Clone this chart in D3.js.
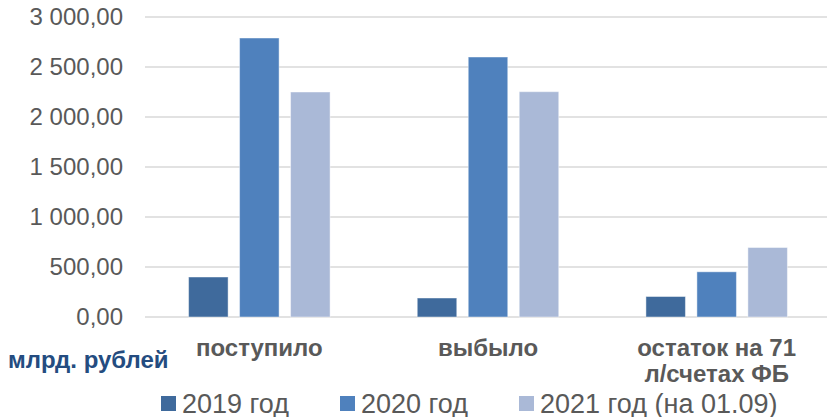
<!DOCTYPE html>
<html>
<head>
<meta charset="utf-8">
<script src="https://cdn.jsdelivr.net/npm/d3@7"></script>
<style>
  body { margin: 0; background: #fff; }
  text { font-family: "Liberation Sans", Arial, sans-serif; }
</style>
</head>
<body>
<div class="chart"></div>
<script>
// data
const categories = ["поступило", "выбыло", "остаток на 71\nл/счетах ФБ"];
const series = ["2019 год", "2020 год", "2021 год (на 01.09)"];
const values2019 = [400, 190, 205];
const values2020 = [2790, 2600, 452];
const values2021 = [2250, 2253, 695];
const yTicks = [0, 500, 1000, 1500, 2000, 2500, 3000];

const colors = ["#3F6A9C", "#4F81BD", "#AAB9D7"];
const allValues = [values2019, values2020, values2021];

const W = 827, H = 417;
const margin = { top: 17, right: -4, bottom: 100, left: 145 };
const width = W - margin.left - margin.right;
const height = H - margin.top - margin.bottom;

const svg = d3
  .select(".chart")
  .append("svg")
  .attr("width", W)
  .attr("height", H);

const g = svg
  .append("g")
  .attr("transform", `translate(${margin.left},${margin.top})`);

const xScale = d3.scaleBand().domain(categories).range([0, width]).padding(0);
const xInner = d3
  .scaleBand()
  .domain(series)
  .range([0, 141.5])
  .paddingInner(0.225)
  .paddingOuter(0);
const yScale = d3.scaleLinear().domain([0, 3000]).range([height, 0]);

const ru = d3.formatLocale({
  decimal: ",",
  thousands: "\u00a0",
  grouping: [3],
  currency: ["", ""],
});
const fmt = ru.format(",.2f");

// gridlines
g.append("g")
  .selectAll("line")
  .data(yTicks)
  .join("line")
  .attr("x1", 0)
  .attr("x2", W - margin.left)
  .attr("y1", (d) => yScale(d))
  .attr("y2", (d) => yScale(d))
  .attr("stroke", "#D9D9D9")
  .attr("stroke-width", 1.5);

// y axis labels
const yAxisG = g
  .append("g")
  .call(
    d3.axisLeft(yScale).tickValues(yTicks).tickSize(0).tickPadding(22).tickFormat(fmt)
  );
yAxisG.select(".domain").remove();
yAxisG
  .selectAll("text")
  .attr("fill", "#595959")
  .attr("font-size", 24)
  .attr("font-family", "Liberation Sans, Arial, sans-serif");

// bars
const rows = categories.map((c, i) => ({
  cat: c,
  vals: series.map((s, j) => ({ s, j, v: allValues[j][i] })),
}));

const groups = g
  .append("g")
  .selectAll("g")
  .data(rows)
  .join("g")
  .attr(
    "transform",
    (d) =>
      `translate(${xScale(d.cat) + (xScale.bandwidth() - 141.5) / 2},0)`
  );

groups
  .selectAll("rect")
  .data((d) => d.vals)
  .join("rect")
  .attr("x", (d) => xInner(d.s))
  .attr("width", xInner.bandwidth())
  .attr("y", (d) => yScale(d.v))
  .attr("height", (d) => height - yScale(d.v))
  .attr("fill", (d) => colors[d.j])
  .attr("stroke", "#ffffff")
  .attr("stroke-opacity", 0.45)
  .attr("stroke-width", 1);

// category labels
const catLabels = g
  .append("g")
  .selectAll("text")
  .data(categories)
  .join("text")
  .attr("x", (d) => xScale(d) + xScale.bandwidth() / 2)
  .attr("y", height + 39)
  .attr("text-anchor", "middle")
  .attr("font-size", 24)
  .attr("font-weight", "bold")
  .attr("fill", "#595959");

catLabels
  .selectAll("tspan")
  .data((d) => d.split("\n"))
  .join("tspan")
  .attr("x", function () {
    const p = d3.select(this.parentNode).datum();
    return xScale(p) + xScale.bandwidth() / 2;
  })
  .attr("dy", (d, i) => (i === 0 ? 0 : 26))
  .text((d) => d);

// units label
svg
  .append("text")
  .attr("x", 8)
  .attr("y", 368)
  .text("млрд. рублей")
  .attr("font-size", 24)
  .attr("font-weight", "bold")
  .attr("fill", "#244C80");

// legend
const legendX = [161, 340, 519];
const legend = svg
  .append("g")
  .selectAll("g")
  .data(series)
  .join("g")
  .attr("transform", (d, i) => `translate(${legendX[i]},396)`);

legend
  .append("rect")
  .attr("width", 15)
  .attr("height", 15)
  .attr("fill", (d, i) => colors[i]);

legend
  .append("text")
  .attr("x", 21)
  .attr("y", 16.5)
  .text((d) => d)
  .attr("font-size", 27)
  .attr("fill", "#595959");
</script>
</body>
</html>
